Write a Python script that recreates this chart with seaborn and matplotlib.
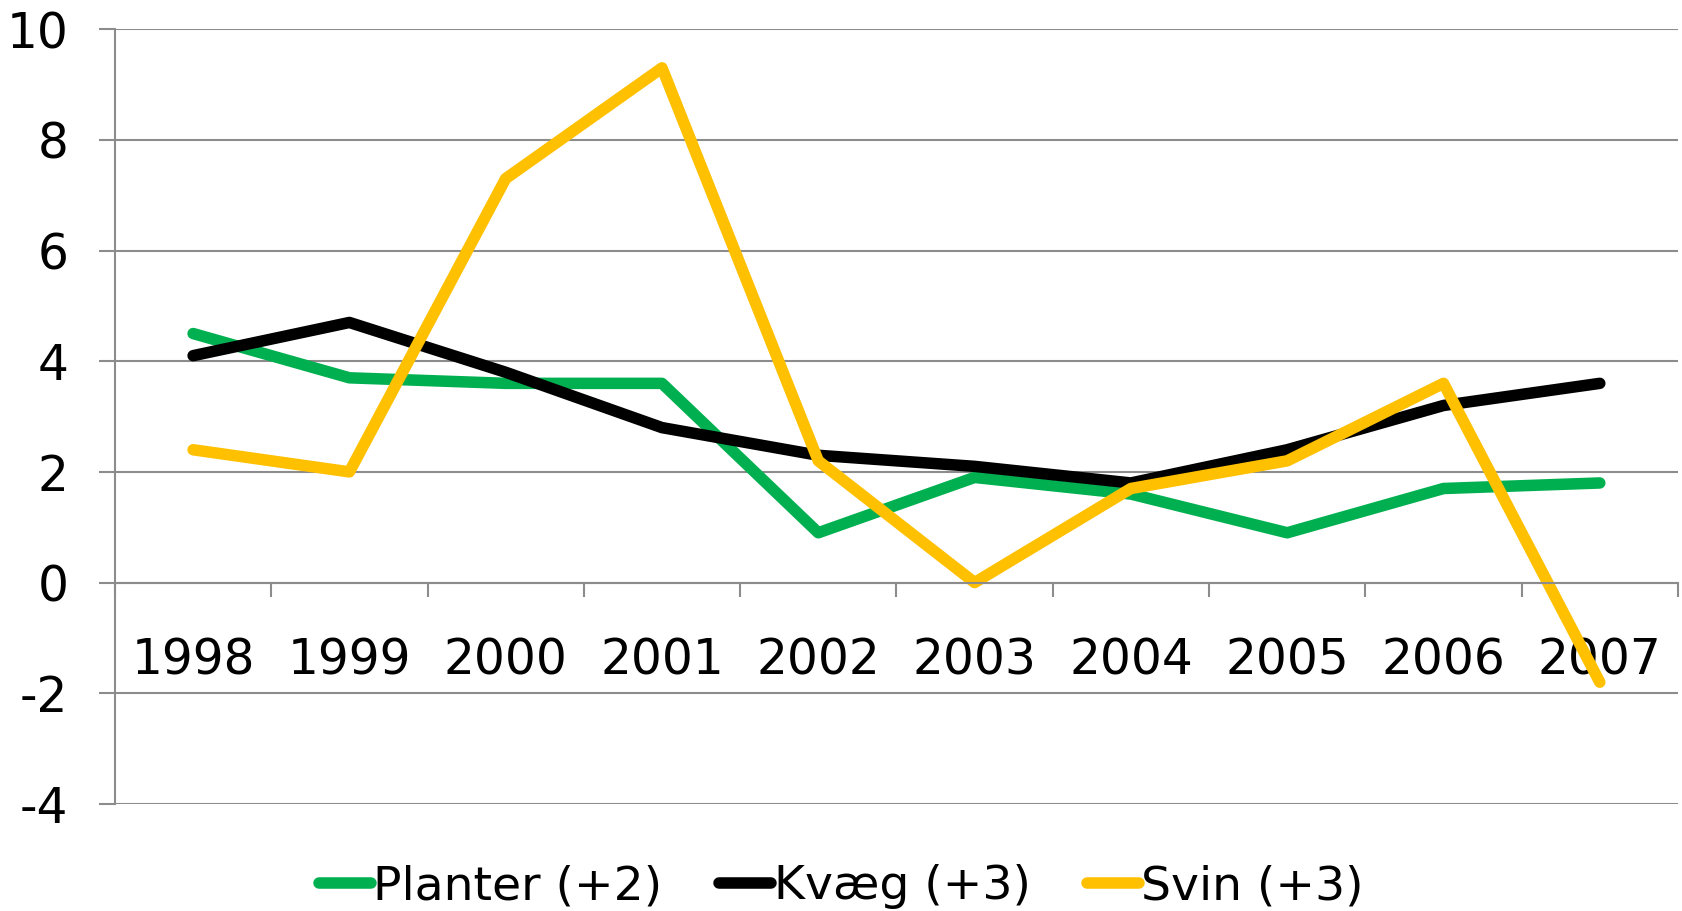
import matplotlib.pyplot as plt
import seaborn as sns
import pandas as pd

years = [1998, 1999, 2000, 2001, 2002, 2003, 2004, 2005, 2006, 2007]
planter = [4.5, 3.7, 3.6, 3.6, 0.9, 1.9, 1.6, 0.9, 1.7, 1.8]
kvaeg = [4.1, 4.7, 3.8, 2.8, 2.3, 2.1, 1.8, 2.4, 3.2, 3.6]
svin = [2.4, 2.0, 7.3, 9.3, 2.2, 0.0, 1.7, 2.2, 3.6, -1.8]
series_names = ['Planter (+2)', 'Kvæg (+3)', 'Svin (+3)']
colors = ['#00B050', '#000000', '#FFC000']
y_ticks = [-4, -2, 0, 2, 4, 6, 8, 10]

df = pd.DataFrame({
    'year': years * 3,
    'value': planter + kvaeg + svin,
    'serie': [s for s in series_names for _ in years],
})

sns.set_style('white')
plt.rcParams['font.family'] = ['DejaVu Sans']
plt.rcParams['text.color'] = 'black'
plt.rcParams['xtick.labelcolor'] = 'black'
plt.rcParams['ytick.labelcolor'] = 'black'
grid_col = '#8C8C8C'

fig = plt.figure(figsize=(16.83, 9.11), dpi=100)
ax = fig.add_axes([0.0683, 0.1175, 0.9287, 0.8505])

ax.set_ylim(-4, 10)
ax.set_xlim(years[0] - 0.5, years[-1] + 0.5)
ax.set_yticks(y_ticks)
ax.yaxis.grid(True, color=grid_col, linewidth=1.5)
ax.set_axisbelow(True)

sns.lineplot(data=df, x='year', y='value', hue='serie', palette=colors,
             hue_order=series_names, linewidth=8.3, ax=ax, legend=True,
             solid_capstyle='round', solid_joinstyle='round')

for s in ['top', 'right']:
    ax.spines[s].set_visible(False)
ax.spines['left'].set_color(grid_col)
ax.spines['left'].set_linewidth(1.5)
ax.spines['bottom'].set_position(('data', 0))
ax.spines['bottom'].set_color(grid_col)
ax.spines['bottom'].set_linewidth(1.5)

# x ticks on category boundaries, labels in the middle
bounds = [y - 0.5 for y in years] + [years[-1] + 0.5]
ax.set_xticks(bounds)
ax.set_xticklabels([])
ax.set_xticks(years, minor=True)
ax.set_xticklabels([str(y) for y in years], minor=True)
ax.tick_params(axis='x', which='major', direction='out', length=10,
               width=1.5, color=grid_col, bottom=True)
ax.tick_params(axis='x', which='minor', length=0, pad=39, labelsize=35)
ax.tick_params(axis='y', direction='out', length=11.5, width=1.5,
               color=grid_col, left=True, pad=22, labelsize=35)
ax.set_yticklabels([str(v) for v in y_ticks])
ax.set_xlabel('')
ax.set_ylabel('')

handles, labels = ax.get_legend_handles_labels()
ax.legend(handles, labels, loc='lower center', bbox_to_anchor=(0.5, -0.045),
          bbox_transform=fig.transFigure, ncol=3, frameon=False,
          fontsize=34, handlelength=1.1, handletextpad=0.05,
          columnspacing=1.2)

fig.savefig('out.png', dpi=100)
